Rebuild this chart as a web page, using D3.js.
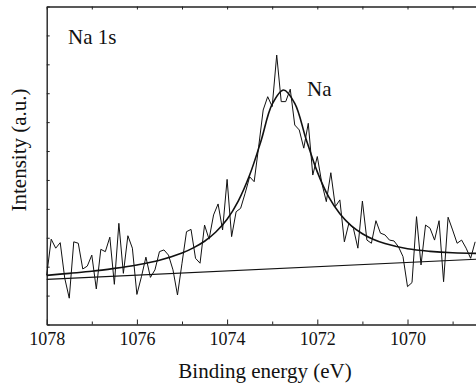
<!DOCTYPE html>
<html>
<head>
<meta charset="utf-8">
<script src="https://cdn.jsdelivr.net/npm/d3@7"></script>
</head>
<body style="margin:0;background:#fff">
<div id="chart"></div>
<script>
// binding energy of each measured point (eV)
const energy = [
  1078.0, 1077.9, 1077.8, 1077.7, 1077.6, 1077.5, 1077.4, 1077.3, 1077.2, 1077.1,
  1077.0, 1076.9, 1076.8, 1076.7, 1076.6, 1076.5, 1076.4, 1076.3, 1076.2, 1076.1,
  1076.0, 1075.9, 1075.8, 1075.7, 1075.6, 1075.5, 1075.4, 1075.3, 1075.2, 1075.1,
  1075.0, 1074.9, 1074.8, 1074.7, 1074.6, 1074.5, 1074.4, 1074.3, 1074.2, 1074.1,
  1074.0, 1073.9, 1073.8, 1073.7, 1073.6, 1073.5, 1073.4, 1073.3, 1073.2, 1073.1,
  1073.0, 1072.9, 1072.8, 1072.7, 1072.6, 1072.5, 1072.4, 1072.3, 1072.2, 1072.1,
  1072.0, 1071.9, 1071.8, 1071.7, 1071.6, 1071.5, 1071.4, 1071.3, 1071.2, 1071.1,
  1071.0, 1070.9, 1070.8, 1070.7, 1070.6, 1070.5, 1070.4, 1070.3, 1070.2, 1070.1,
  1070.0, 1069.9, 1069.8, 1069.7, 1069.6, 1069.5, 1069.4, 1069.3, 1069.2, 1069.1,
  1069.0, 1068.9, 1068.8, 1068.7, 1068.6, 1068.5
];
// raw counts (arbitrary units)
const intensity = [
  171, 295, 264, 283, 160, 91, 286, 281, 192, 202,
  240, 123, 260, 252, 302, 139, 350, 177, 307, 264,
  104, 165, 233, 163, 189, 252, 258, 240, 189, 102,
  212, 321, 329, 229, 212, 344, 295, 379, 417, 327,
  502, 304, 390, 402, 454, 511, 494, 615, 742, 788,
  754, 932, 771, 771, 814, 690, 673, 610, 696, 517,
  581, 489, 425, 525, 408, 431, 286, 350, 333, 264,
  427, 292, 281, 359, 316, 310, 292, 289, 269, 235,
  131, 145, 373, 206, 344, 333, 292, 359, 148, 371,
  327, 281, 292, 264, 229, 286
];

// fitted Na peak
const fitEnergy = [
  1078, 1077.5, 1077, 1076.5, 1076, 1075.5, 1075, 1074.75, 1074.5, 1074.25,
  1074, 1073.75, 1073.5, 1073.25, 1073, 1072.75, 1072.5, 1072.25, 1072, 1071.75,
  1071.5, 1071.25, 1071, 1070.75, 1070.5, 1070, 1069.5, 1069, 1068.5, 1068
];
const fitIntensity = [
  170, 177, 184, 194, 206, 222, 247, 265, 288, 320,
  364, 428, 517, 634, 762, 811, 765, 642, 528, 442,
  383, 342, 314, 294, 280, 262, 253, 248, 246, 246
];

// linear background
const bgEnergy = [1078, 1068];
const bgIntensity = [156, 229];

const xMajorTicks = [1078, 1076, 1074, 1072, 1070];
const xMinorTicks = [1077, 1075, 1073, 1071, 1069];
const xAllTicks = [1078, 1077, 1076, 1075, 1074, 1073, 1072, 1071, 1070, 1069, 1068];
const yTicks = [0, 100, 200, 300, 400, 500, 600, 700, 800, 900, 1000, 1100];

const width = 476;
const height = 387;
const plotLeft = 46.7, plotTop = 6.5, plotBottom = 324.5;
const serif = 'Times New Roman';

const svg = d3.select('#chart')
  .append('svg')
  .attr('width', width)
  .attr('height', height)
  .attr('font-family', serif);

svg.append('rect').attr('width', width).attr('height', height).attr('fill', '#fff');

const x = d3.scaleLinear().domain([1078, 1068]).range([plotLeft, plotLeft + 451]);
const y = d3.scaleLinear().domain([0, 1100]).range([plotBottom, plotTop]);

// style an axis group: dark lines, serif labels
function styleAxis(g) {
  g.attr('font-family', serif).attr('font-size', 18);
  g.select('.domain').attr('stroke', '#222').attr('stroke-width', 1.4);
  g.selectAll('.tick line').attr('stroke', '#222').attr('stroke-width', 1);
  g.selectAll('.tick text')
    .attr('font-family', serif)
    .style('font-family', "'" + serif + "'")
    .attr('fill', '#111');
}

// axes, ticks pointing inwards
svg.append('g')
  .attr('transform', 'translate(0,' + plotBottom + ')')
  .call(d3.axisBottom(x).tickValues(xMajorTicks).tickSizeInner(-5).tickSizeOuter(0)
    .tickPadding(8).tickFormat(d3.format('d')))
  .call(styleAxis);

svg.append('g')
  .attr('transform', 'translate(0,' + plotBottom + ')')
  .call(d3.axisBottom(x).tickValues(xMinorTicks).tickSizeInner(-3).tickSizeOuter(0).tickFormat(''))
  .call(styleAxis)
  .select('.domain').remove();

svg.append('g')
  .attr('transform', 'translate(0,' + plotTop + ')')
  .call(d3.axisTop(x).tickValues(xAllTicks).tickSizeInner(-3).tickSizeOuter(0).tickFormat(''))
  .call(styleAxis);

svg.append('g')
  .attr('transform', 'translate(' + plotLeft + ',0)')
  .call(d3.axisLeft(y).tickValues(yTicks).tickSizeInner(-3).tickSizeOuter(0).tickFormat(''))
  .call(styleAxis);

// background line
const line = d3.line().x(d => x(d[0])).y(d => y(d[1]));
svg.append('path')
  .datum(d3.zip(bgEnergy, bgIntensity))
  .attr('d', line)
  .attr('fill', 'none')
  .attr('stroke', '#111')
  .attr('stroke-width', 1.1);

// raw spectrum
svg.append('path')
  .datum(d3.zip(energy, intensity))
  .attr('d', line)
  .attr('fill', 'none')
  .attr('stroke', '#111')
  .attr('stroke-width', 1);

// fitted curve
svg.append('path')
  .datum(d3.zip(fitEnergy, fitIntensity))
  .attr('d', line.curve(d3.curveCatmullRom))
  .attr('fill', 'none')
  .attr('stroke', '#111')
  .attr('stroke-width', 1.6);

// labels
function label(txt) {
  return svg.append('text')
    .attr('font-family', serif)
    .style('font-family', "'" + serif + "'")
    .style('font-size', '21px')
    .attr('fill', '#111')
    .text(txt);
}

label('Na 1s').attr('x', 68).attr('y', 44);
label('Na').attr('x', 307).attr('y', 96);
label('Binding energy (eV)')
  .attr('x', 265).attr('y', 378)
  .attr('text-anchor', 'middle');
label('Intensity (a.u.)')
  .attr('transform', 'translate(26,150) rotate(-90)')
  .attr('text-anchor', 'middle');
</script>
</body>
</html>
